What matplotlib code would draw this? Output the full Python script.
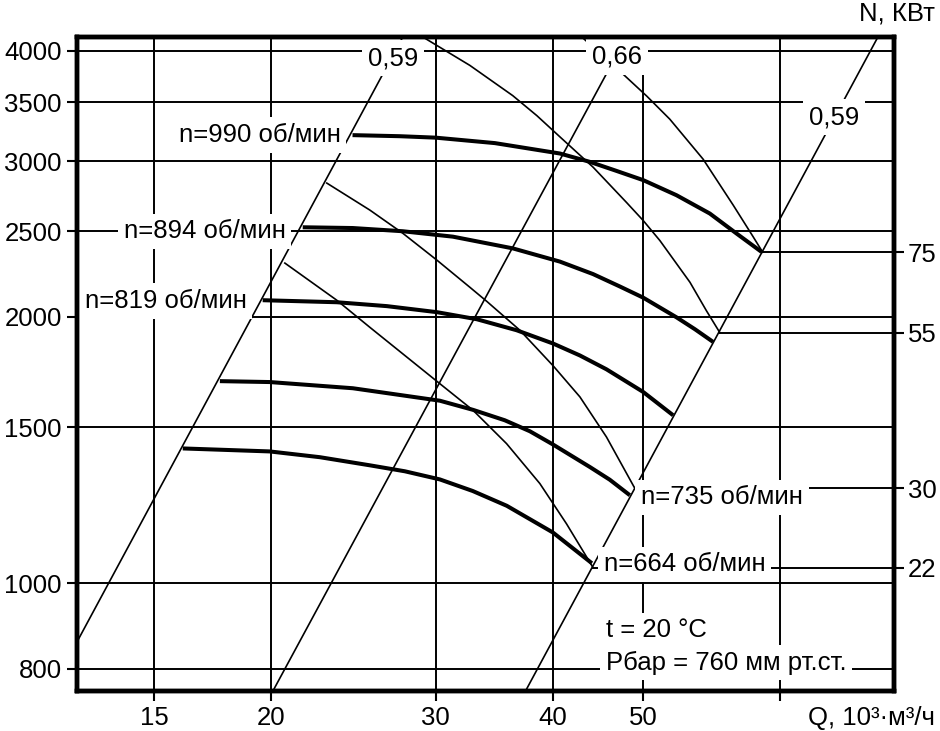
import matplotlib
matplotlib.use('Agg')
import matplotlib.pyplot as plt
from matplotlib.ticker import FixedLocator, FixedFormatter, NullLocator, NullFormatter

plt.rcParams['font.family'] = ['Liberation Sans', 'DejaVu Sans']
FS = 18.5

# ---------------- axes ----------------
q_ticks = [15, 20, 30, 40, 50, 70]
q_tick_labels = ['15', '20', '30', '40', '50', '']
p_ticks = [800, 1000, 1500, 2000, 2500, 3000, 3500, 4000]
p_tick_labels = ['800', '1000', '1500', '2000', '2500', '3000', '3500', '4000']
q_lim = (12.41, 92.7)
p_lim = (755, 4146)

# ---------------- fan curves (bold), Q in 10^3 m3/h, P in Pa ----------------
speed_labels = ['n=990 об/мин', 'n=894 об/мин', 'n=819 об/мин', 'n=735 об/мин', 'n=664 об/мин']
q_990 = [24.45, 27.47, 30.0, 34.71, 40.73, 43.85, 46.75, 50.0, 54.27, 58.91, 62.92, 66.91]
p_990 = [3211, 3202, 3190, 3145, 3061, 2995, 2927, 2856, 2746, 2618, 2485, 2369]
q_894 = [21.63, 24.46, 27.67, 31.30, 36.27, 40.73, 44.20, 47.21, 50.0, 54.27, 56.79, 59.39]
p_894 = [2526, 2521, 2500, 2465, 2391, 2310, 2236, 2165, 2103, 1998, 1937, 1874]
q_819 = [19.60, 23.52, 26.61, 30.09, 33.20, 36.61, 40.06, 42.79, 45.68, 50.0, 53.83]
p_819 = [2089, 2078, 2057, 2025, 1988, 1932, 1866, 1809, 1745, 1645, 1548]
q_735 = [17.64, 19.94, 24.47, 30.31, 32.90, 35.57, 37.83, 40.03, 43.85, 46.05, 48.39]
p_735 = [1692, 1688, 1661, 1608, 1570, 1528, 1485, 1435, 1353, 1309, 1257]
q_664 = [16.10, 19.94, 22.56, 25.51, 27.81, 30.31, 32.87, 35.74, 40.03, 44.07]
p_664 = [1420, 1409, 1388, 1359, 1338, 1310, 1271, 1223, 1141, 1053]

# ---------------- thin curves ----------------
q_thin_a = [29.07, 32.63, 36.27, 38.49, 40.73, 44.20, 48.00, 50.0, 52.10, 56.10, 58.43, 60.38]
p_thin_a = [4146, 3851, 3559, 3378, 3197, 2954, 2694, 2571, 2440, 2189, 2032, 1920]
q_thin_b = [42.99, 47.21, 50.45, 53.39, 57.95, 62.40, 65.53, 67.1]
p_thin_b = [4146, 3793, 3554, 3347, 3016, 2676, 2465, 2367]
q_thin_c = [22.95, 25.51, 27.67, 30.09, 32.63, 34.02, 36.91, 40.06, 42.79, 45.68, 48.98]
p_thin_c = [2834, 2642, 2487, 2319, 2161, 2083, 1932, 1761, 1624, 1463, 1280]
q_thin_d = [20.70, 23.52, 25.51, 30.31, 32.90, 35.72, 38.77, 41.40, 44.20]
p_thin_d = [2301, 2089, 1947, 1681, 1568, 1438, 1296, 1167, 1041]

# ---------------- efficiency lines ----------------
eff_labels = ['0,59', '0,66', '0,59']
q_eff = [[12.41, 27.67], [20.1, 47.97], [37.43, 89.1]]
p_eff = [[858, 4146], [755, 4146], [755, 4146]]

# ---------------- power (right axis) ----------------
power_labels = ['75', '55', '30', '22']
power_p = [2367, 1920, 1280, 1041]
power_q_start = [67.1, 60.38, 48.98, 44.20]

# ================= drawing =================
fig = plt.figure(figsize=(9.4, 7.31), dpi=100)
ax = fig.add_axes([77 / 940, 1 - 691 / 731, (894 - 77) / 940, (691 - 37) / 731])
ax.set_xscale('log')
ax.set_yscale('log')
ax.set_xlim(*q_lim)
ax.set_ylim(*p_lim)

for axis in (ax.xaxis, ax.yaxis):
    axis.set_minor_locator(NullLocator())
    axis.set_minor_formatter(NullFormatter())
ax.xaxis.set_major_locator(FixedLocator(q_ticks))
ax.xaxis.set_major_formatter(FixedFormatter(q_tick_labels))
ax.yaxis.set_major_locator(FixedLocator(p_ticks))
ax.yaxis.set_major_formatter(FixedFormatter(p_tick_labels))
ax.tick_params(axis='both', which='major', direction='out', length=7, width=1.5,
               labelsize=FS, pad=4, colors='black')
ax.grid(True, which='major', color='black', linewidth=1.4)
ax.set_axisbelow(True)
for s in ax.spines.values():
    s.set_linewidth(3.2)
    s.set_zorder(10)

BOLD = dict(color='black', linewidth=2.9, solid_capstyle='butt',
            solid_joinstyle='round', zorder=3)
THIN = dict(color='black', linewidth=1.2, solid_joinstyle='round', zorder=2)

for q, p in [(q_990, p_990), (q_894, p_894), (q_819, p_819), (q_735, p_735), (q_664, p_664)]:
    ax.plot(q, p, **BOLD)
for q, p in [(q_thin_a, p_thin_a), (q_thin_b, p_thin_b), (q_thin_c, p_thin_c), (q_thin_d, p_thin_d)]:
    ax.plot(q, p, **THIN)
for q, p in zip(q_eff, p_eff):
    ax.plot(q, p, **THIN)
for q0, p0 in zip(power_q_start, power_p):
    ax.plot([q0, q_lim[1]], [p0, p0], color='black', linewidth=1.4, zorder=2)

box = dict(facecolor='white', edgecolor='none', pad=4)
txt = dict(fontsize=FS, ha='center', va='center', bbox=box, zorder=6)

# efficiency labels
ax.text(27.0, 3925, eff_labels[0], **txt)
ax.text(46.87, 3936, eff_labels[1], **txt)
ax.text(79.97, 3365, eff_labels[2], **txt)

# speed labels
ax.text(19.46, 3211, speed_labels[0], **txt)
ax.text(17.0, 2500, speed_labels[1], **txt)
ax.text(15.44, 2085, speed_labels[2], **txt)
ax.text(60.7, 1250, speed_labels[3], **txt)
ax.text(55.4, 1050, speed_labels[4], **txt)

# conditions
ax.text(45.62, 884, 't = 20 °C', fontsize=FS, ha='left', va='center', bbox=box, zorder=6)
ax.text(45.62, 813, 'Рбар = 760 мм рт.ст.', fontsize=FS, ha='left', va='center', bbox=box, zorder=6)

# right axis with power values
ax2 = ax.twinx()
ax2.set_yscale('log')
ax2.set_ylim(*p_lim)
ax2.yaxis.set_minor_locator(NullLocator())
ax2.yaxis.set_minor_formatter(NullFormatter())
ax2.yaxis.set_major_locator(FixedLocator(power_p))
ax2.yaxis.set_major_formatter(FixedFormatter(power_labels))
ax2.tick_params(axis='y', which='major', direction='out', length=7, width=1.5,
                labelsize=FS, pad=3)
for s in ax2.spines.values():
    s.set_linewidth(3.2)

fig.text(935 / 940, 1 - 718 / 731, 'Q, 10³·м³/ч', fontsize=FS, ha='right', va='center')
fig.text(935 / 940, 1 - 13 / 731, 'N, КВт', fontsize=FS, ha='right', va='center')

fig.savefig('out.png', dpi=100)
